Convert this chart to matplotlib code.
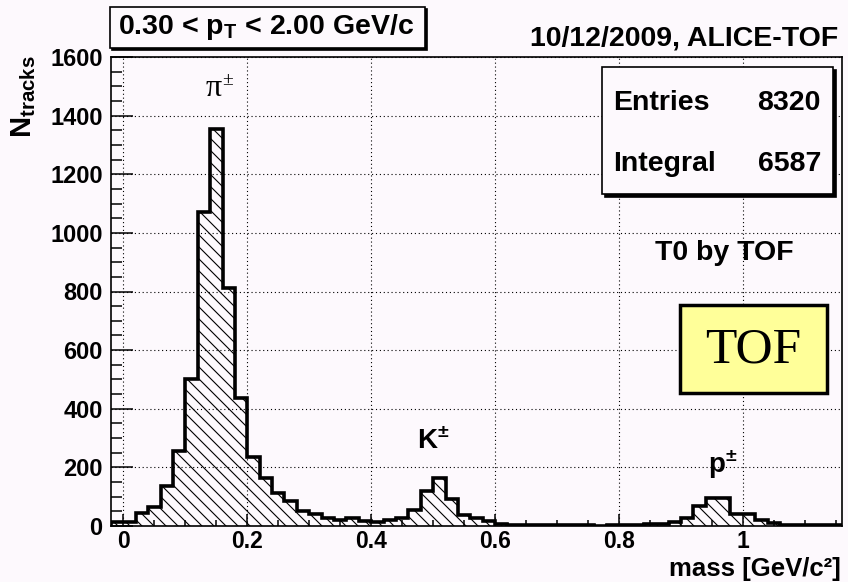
import matplotlib
matplotlib.use('Agg')
import matplotlib.pyplot as plt
import numpy as np
from matplotlib.patches import Rectangle
from matplotlib.collections import LineCollection
from matplotlib.transforms import IdentityTransform

plt.rcParams['font.family'] = ['Liberation Sans', 'DejaVu Sans']
plt.rcParams['font.weight'] = 'bold'
plt.rcParams['mathtext.fontset'] = 'custom'
plt.rcParams['mathtext.rm'] = 'Liberation Sans:bold'
plt.rcParams['mathtext.it'] = 'Liberation Sans:bold'
plt.rcParams['mathtext.bf'] = 'Liberation Sans:bold'
plt.rcParams['mathtext.sf'] = 'Liberation Sans:bold'

# ---------------- data ----------------
bin_start = -0.02
bin_width = 0.02
counts = [12, 12, 45, 65, 138, 255, 503, 1070, 1356, 812,
          436, 234, 164, 113, 85, 50, 40, 27, 22, 26,
          17, 13, 22, 27, 53, 121, 163, 93, 37, 26,
          18, 7, 4, 4, 3, 5, 3, 3, 2, 0,
          2, 3, 3, 6, 6, 12, 28, 68, 96, 96,
          40, 40, 22, 11, 4, 3, 2, 3, 2]
xtick_vals = [0, 0.2, 0.4, 0.6, 0.8, 1.0]
xtick_labels = ['0', '0.2', '0.4', '0.6', '0.8', '1']
ytick_vals = [0, 200, 400, 600, 800, 1000, 1200, 1400, 1600]
ytick_labels = ['0', '200', '400', '600', '800', '1000', '1200', '1400', '1600']
stats_names = ['Entries', 'Integral']
stats_values = ['8320', '6587']

edges = bin_start + bin_width * np.arange(len(counts) + 1)

W, H = 848, 582
bg = '#fdf9fd'

def fx(x):
    return x / W

def fy(y):
    return 1 - y / H

fig = plt.figure(figsize=(W / 100, H / 100), dpi=100, facecolor=bg)
ax = fig.add_axes([fx(111), fy(526), (842 - 111) / W, (526 - 57) / H])
ax.set_facecolor(bg)
ax.set_xlim(-0.02, 1.16)
ax.set_ylim(0, 1600)

# histogram
clip = ax.stairs(counts, edges, fill=True, facecolor='none', edgecolor='none', zorder=2)
ax.stairs(counts, edges, fill=False, color='k', lw=2.6, zorder=4)
segs = []
for c in np.arange(-H, W + H + 12, 12):
    segs.append([(c, 0), (c - (W + H), W + H)])
lc = LineCollection(segs, colors='k', linewidths=0.8, transform=IdentityTransform(), zorder=3)
ax.add_collection(lc, autolim=False)
lc.set_clip_path(clip)

# grid, ticks
ax.set_xticks(xtick_vals, xtick_labels)
ax.set_yticks(ytick_vals, ytick_labels)
ax.set_xticks(np.arange(0, 1.16, 0.05), minor=True)
ax.set_yticks(np.arange(0, 1601, 50), minor=True)
ax.grid(True, which='major', color='k', lw=0.8, ls=(0, (1, 2.5)), zorder=1)
ax.tick_params(axis='x', which='major', direction='in', length=9, width=1.1, labelsize=16.5, pad=3)
ax.tick_params(axis='x', which='minor', direction='in', length=4.5, width=1.1)
ax.tick_params(axis='y', which='major', direction='in', length=16, width=1.1, labelsize=17, pad=6)
ax.tick_params(axis='y', which='minor', direction='in', length=8, width=1.1)
for s in ax.spines.values():
    s.set_linewidth(1.2)
    s.set_zorder(5)

# axis titles
fig.text(fx(24), fy(55), r'N$_{\mathrm{tracks}}$', rotation=90, ha='center', va='top', fontsize=21)
fig.text(fx(841), fy(576), 'mass [GeV/c²]', ha='right', va='baseline', fontsize=18.5)

# peak labels
ax.text(0.146, 1467, 'π', ha='center', va='baseline', fontsize=23,
        family='Liberation Serif', weight='normal')
ax.text(0.168, 1505, '±', ha='center', va='baseline', fontsize=14,
        family='Liberation Serif', weight='normal')
ax.text(0.50, 262, r'K$^{\pm}$', ha='center', va='baseline', fontsize=20)
ax.text(0.967, 180, r'p$^{\pm}$', ha='center', va='baseline', fontsize=20)

# top-left pT box
def shadow_box(x0, y0, x1, y1, fc, lw=1.2, off=3):
    fig.patches.append(Rectangle((fx(x0 + off), fy(y1 + off)), (x1 - x0) / W, (y1 - y0) / H,
                                 transform=fig.transFigure, facecolor='k', edgecolor='k', lw=lw, zorder=5))
    fig.patches.append(Rectangle((fx(x0), fy(y1)), (x1 - x0) / W, (y1 - y0) / H,
                                 transform=fig.transFigure, facecolor=fc, edgecolor='k', lw=lw, zorder=6))

shadow_box(110, 7, 425, 48, bg, off=2)
fig.text(fx(118), fy(34), r'0.30 < p$_{\mathrm{T}}$ < 2.00 GeV/c', ha='left', va='baseline', fontsize=20.5, zorder=7)

fig.text(fx(838), fy(46), '10/12/2009, ALICE-TOF', ha='right', va='baseline', fontsize=20.5)

# stats box
shadow_box(602, 67, 833, 194, bg, off=3)
for i, (n, v) in enumerate(zip(stats_names, stats_values)):
    yb = 110 + i * 61
    fig.text(fx(613), fy(yb), n, ha='left', va='baseline', fontsize=20.5, zorder=7)
    fig.text(fx(821), fy(yb), v, ha='right', va='baseline', fontsize=20.5, zorder=7)

fig.text(fx(724), fy(260), 'T0 by TOF', ha='center', va='baseline', fontsize=20.5)

# TOF yellow box
fig.patches.append(Rectangle((fx(680), fy(393)), (827 - 680) / W, (393 - 305) / H,
                             transform=fig.transFigure, facecolor='#ffff99', edgecolor='k', lw=2.5, zorder=6))
fig.text(fx(753), fy(350), 'TOF', ha='center', va='center', fontsize=37,
         family='Liberation Serif', weight='normal', zorder=7)

fig.savefig('out.png', dpi=100, facecolor=bg)
